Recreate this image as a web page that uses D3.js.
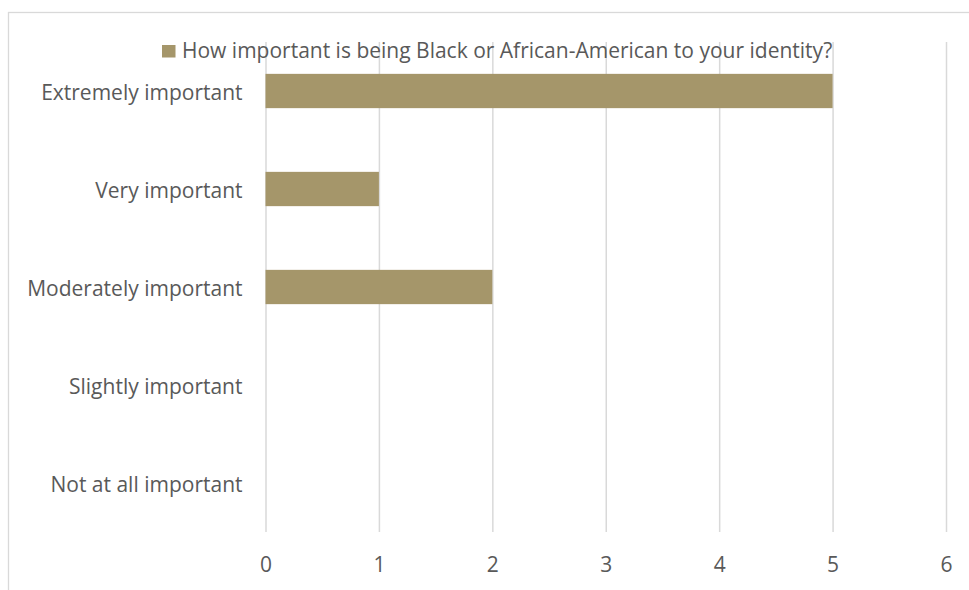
<!DOCTYPE html>
<html><head><meta charset="utf-8">
<script src="https://cdn.jsdelivr.net/npm/d3@7"></script>
<style>body{margin:0;background:#fff}svg{display:block}</style>
</head><body>
<svg id="c" width="969" height="590"></svg>
<script>
const categories = ["Extremely important","Very important","Moderately important","Slightly important","Not at all important"];
const values = [5, 1, 2, 0, 0];
const xTicks = [0,1,2,3,4,5,6];
const seriesName = "How important is being Black or African-American to your identity?";

const svg = d3.select("#c");
const font = "'Open Sans', sans-serif";
const fs = "21px";
const textColor = "#595959";
const barColor = "#A5966A";
const gridColor = "#d9d9d9";

svg.append("rect").attr("x",8.5).attr("y",12.5).attr("width",1000).attr("height",700)
  .attr("fill","#fff").attr("stroke",gridColor).attr("stroke-width",1.3);

const plot = {left:265.5, right:946, top:42, bottom:532};
const x = d3.scaleLinear().domain([0,6]).range([plot.left, plot.right]);
const y = d3.scaleBand().domain(categories).range([plot.top, plot.bottom]).paddingInner(0.65).paddingOuter(0.325);

const xAxis = d3.axisBottom(x).tickValues(xTicks).tickFormat(d3.format("d")).tickSize(-(plot.bottom-plot.top)).tickPadding(0);
const gx = svg.append("g").attr("transform",`translate(0,${plot.bottom})`).call(xAxis);
gx.select(".domain").remove();
gx.selectAll(".tick line").attr("stroke",gridColor).attr("stroke-width",1.5);
gx.selectAll(".tick text").attr("fill",textColor).style("font-family",font).style("font-size",fs)
  .attr("y",40).attr("dy",0);

svg.append("g").selectAll("rect").data(categories).join("rect")
  .attr("x",x(0)).attr("y",d=>y(d)).attr("height",y.bandwidth())
  .attr("width",(d,i)=>x(values[i])-x(0)).attr("fill",barColor);

const yAxis = d3.axisLeft(y).tickSize(0).tickPadding(23);
const gy = svg.append("g").attr("transform",`translate(${plot.left},0)`).call(yAxis);
gy.select(".domain").remove();
gy.selectAll(".tick text").attr("fill",textColor).style("font-family",font).style("font-size",fs).attr("dy","0.42em");

const lg = svg.append("g");
lg.append("rect").attr("x",162).attr("y",45).attr("width",13.5).attr("height",12.5).attr("fill",barColor);
lg.append("text").attr("x",182).attr("y",57.5).attr("fill",textColor).style("font-family",font).style("font-size",fs).text(seriesName);
</script>
</body></html>
